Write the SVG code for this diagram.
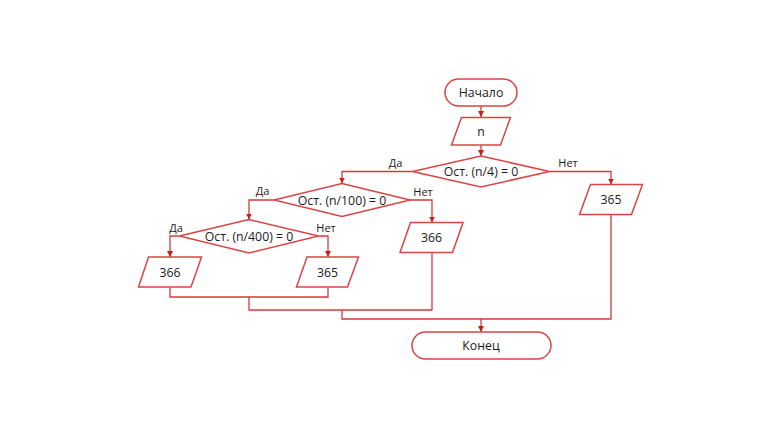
<svg xmlns="http://www.w3.org/2000/svg" width="780" height="440" viewBox="0 0 780 440">
<style>
.shape{fill:#ffffff;stroke:#d94545;stroke-width:1.5}
.t{font-family:"Open Sans","Noto Sans","DejaVu Sans",sans-serif;font-size:12.3px;fill:#1a1a1a;text-anchor:middle}
.l{font-family:"Open Sans","Noto Sans","DejaVu Sans",sans-serif;font-size:11px;fill:#1a1a1a;text-anchor:middle}
.c{fill:none;stroke:#d43a3a;stroke-width:1.3}
</style>
<defs>
<marker id="arr" markerUnits="userSpaceOnUse" markerWidth="7" markerHeight="7" refX="6" refY="3.5" orient="auto">
<path d="M0,0.5 L6,3.5 L0,6.5 z" fill="#c81e1e"/>
</marker>
</defs>
<rect width="780" height="440" fill="#ffffff"/>
<g id="connectors">
<path class="c" d="M481,106 V117" marker-end="url(#arr)"/>
<path class="c" d="M481,145 V156" marker-end="url(#arr)"/>
<path class="c" d="M412.5,171.5 H342 V183.5" marker-end="url(#arr)"/>
<path class="c" d="M549.5,171.5 H611 V184.5" marker-end="url(#arr)"/>
<path class="c" d="M274,200 H249 V219.5" marker-end="url(#arr)"/>
<path class="c" d="M410,200 H432 V222.5" marker-end="url(#arr)"/>
<path class="c" d="M179.5,236 H170 V257" marker-end="url(#arr)"/>
<path class="c" d="M318.5,236 H328 V257" marker-end="url(#arr)"/>
<path class="c" d="M170,287 V297 H328 V287"/>
<path class="c" d="M249,297 V310 H432 V252.5"/>
<path class="c" d="M342,310 V319 H611 V214.5"/>
<path class="c" d="M481,319 V332" marker-end="url(#arr)"/>
<text class="l" x="395.5" y="167">Да</text>
<text class="l" x="568" y="167">Нет</text>
<text class="l" x="262.5" y="195">Да</text>
<text class="l" x="423" y="196">Нет</text>
<text class="l" x="176" y="232">Да</text>
<text class="l" x="326" y="232">Нет</text>
</g>
<g id="start">
<rect class="shape" x="445" y="79" width="72" height="27" rx="13.5"/>
<text class="t" x="481" y="97">Начало</text>
</g>
<g id="input-n">
<polygon class="shape" points="461.5,117.5 510.5,117.5 500.5,145 451.5,145"/>
<text class="t" x="481" y="136">n</text>
</g>
<g id="cond-4">
<polygon class="shape" points="481,156 549.5,171.5 481,187 412.5,171.5"/>
<text class="t" x="481" y="176">Ост. (n/4) = 0</text>
</g>
<g id="out-365-right">
<polygon class="shape" points="590.5,184.5 642.5,184.5 631.5,214.5 579.5,214.5"/>
<text class="t" x="611" y="204">365</text>
</g>
<g id="cond-100">
<polygon class="shape" points="342,183.5 410,200 342,216.5 274,200"/>
<text class="t" x="342" y="204.5">Ост. (n/100) = 0</text>
</g>
<g id="out-366-mid">
<polygon class="shape" points="410.5,222.5 463,222.5 452.5,252.5 400,252.5"/>
<text class="t" x="431.5" y="242">366</text>
</g>
<g id="cond-400">
<polygon class="shape" points="249,219.5 318.5,236 249,253 179.5,236"/>
<text class="t" x="249" y="240.5">Ост. (n/400) = 0</text>
</g>
<g id="out-366-left">
<polygon class="shape" points="148.5,257 201.5,257 191,287 138.5,287"/>
<text class="t" x="170" y="277">366</text>
</g>
<g id="out-365-mid">
<polygon class="shape" points="307,257 358.5,257 347.5,287 296.5,287"/>
<text class="t" x="327.5" y="277">365</text>
</g>
<g id="end">
<rect class="shape" x="412" y="332" width="139" height="27" rx="13.5"/>
<text class="t" x="481" y="350">Конец</text>
</g>
</svg>
